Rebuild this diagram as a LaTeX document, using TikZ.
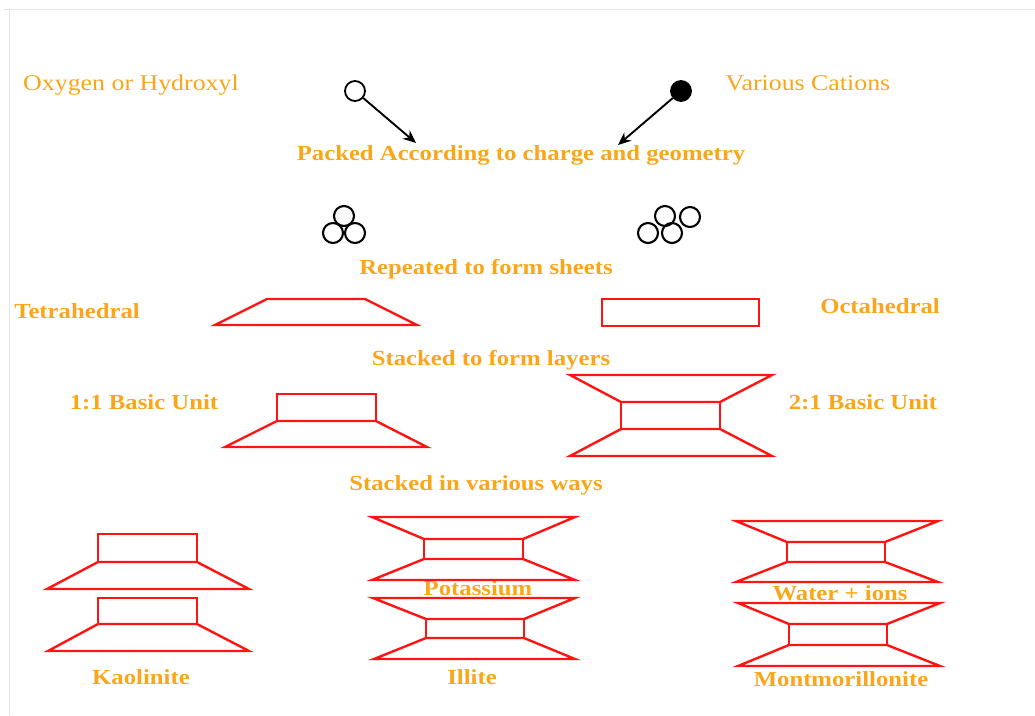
\documentclass[tikz,border=0pt]{standalone}
\usepackage{fontspec}
\newfontfamily\lblfont{Liberation Serif}[FakeStretch=1.15]
\usetikzlibrary{arrows.meta}
\definecolor{lblorange}{RGB}{250,166,26}
\definecolor{sheetred}{RGB}{255,20,20}
\tikzset{
  lbl/.style={text=lblorange, inner sep=0pt, anchor=base, font=\lblfont\fontsize{21.5}{24}\selectfont\bfseries},
  lblplain/.style={text=lblorange, inner sep=0pt, anchor=base, font=\lblfont\fontsize{22.5}{25}\selectfont},
  atom/.style={circle, draw, line width=1.8pt, minimum size=20pt, inner sep=0pt},
  ball/.style={circle, draw, line width=2.1pt, minimum size=20pt, inner sep=0pt},
  sheet/.style={draw=sheetred, line width=2.4pt},
  arr/.style={-{Stealth[length=13pt,width=11pt]}, line width=1.9pt}
}
\begin{document}
\begin{tikzpicture}[x=1pt,y=-1pt]
  \useasboundingbox (0,0) rectangle (1035,715);
  \draw[black!10, line width=1pt] (4,9) -- (1035,9) (9,9) -- (9,715);
  \draw
    (131,90) node[lblplain] (oxy){Oxygen or Hydroxyl}
    (808,90) node[lblplain] (cat){Various Cations}
    (355,91) node[atom] (o){}
    (681,91) node[atom, fill=black] (c){}
    (521,160) node[lbl] (packed){Packed According to charge and geometry}
    (486,274) node[lbl] (repeated){Repeated to form sheets}
    (77,318) node[lbl] (tet){Tetrahedral}
    (880,313) node[lbl] (oct){Octahedral}
    (491,365) node[lbl] (layers){Stacked to form layers}
    (144,409) node[lbl] (one){1:1 Basic Unit}
    (863,409) node[lbl] (two){2:1 Basic Unit}
    (476,490) node[lbl] (ways){Stacked in various ways}
    (141,684) node[lbl] (kao){Kaolinite}
    (478,595) node[lbl] (pot){Potassium}
    (472,684) node[lbl] (ill){Illite}
    (840,600) node[lbl] (wat){Water + ions}
    (841,686) node[lbl] (mon){Montmorillonite};
  \coordinate (po) at (416,143);
  \coordinate (pc) at (618,145);
  \begin{scope}[arr]
    \draw (o) to (po);
    \draw (c) to (pc);
  \end{scope}
  \draw
    (344,216) node[ball] (t1){}
    (333,233) node[ball] (t2){}
    (355,233) node[ball] (t3){}
    (665,216) node[ball] (s1){}
    (690,217) node[ball] (s2){}
    (648,233) node[ball] (s3){}
    (672,233) node[ball] (s4){};
  \begin{scope}[sheet]
    \draw (215,325) -- (267,299) -- (365,299) -- (417,325) -- cycle;
    \draw (602,299) rectangle (759,326);
    \draw (277,394) rectangle (376,421);
    \draw (225,447) -- (277,421) -- (376,421) -- (427,447) -- cycle;
    \draw (570,375) -- (772,375) -- (720,402) -- (621,402) -- cycle;
    \draw (621,402) rectangle (720,429);
    \draw (570,456) -- (621,429) -- (720,429) -- (772,456) -- cycle;
    \draw (98,534) rectangle (197,562);
    \draw (47,589) -- (98,562) -- (197,562) -- (249,589) -- cycle;
    \draw (98,598) rectangle (197,624);
    \draw (48,651) -- (98,624) -- (197,624) -- (249,651) -- cycle;
    \draw (372,517) -- (575,517) -- (523,539) -- (424,539) -- cycle;
    \draw (424,539) rectangle (523,559);
    \draw (372,580) -- (424,559) -- (523,559) -- (575,580) -- cycle;
    \draw (373,598) -- (575,598) -- (524,619) -- (426,619) -- cycle;
    \draw (426,619) rectangle (524,638);
    \draw (374,659) -- (426,638) -- (524,638) -- (575,659) -- cycle;
    \draw (736,521) -- (938,521) -- (885,542) -- (787,542) -- cycle;
    \draw (787,542) rectangle (885,562);
    \draw (736,582) -- (787,562) -- (885,562) -- (938,582) -- cycle;
    \draw (738,603) -- (940,603) -- (887,624) -- (789,624) -- cycle;
    \draw (789,624) rectangle (887,645);
    \draw (738,666) -- (789,645) -- (887,645) -- (940,666) -- cycle;
  \end{scope}
\end{tikzpicture}
\end{document}
